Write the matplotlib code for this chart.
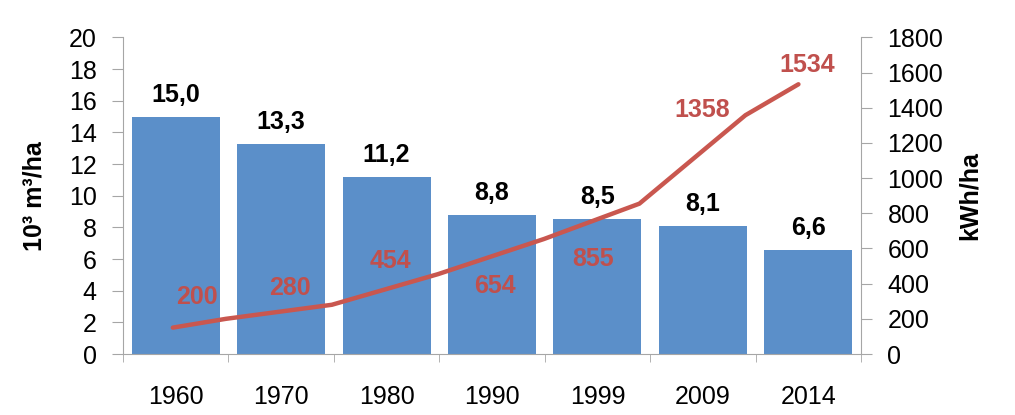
import matplotlib
matplotlib.use("Agg")
import matplotlib.pyplot as plt
from matplotlib.ticker import FixedLocator

plt.rcParams['font.family'] = ['Liberation Sans', 'DejaVu Sans']

# ---- data ----
categories = ['1960', '1970', '1980', '1990', '1999', '2009', '2014']
water = [15.0, 13.3, 11.2, 8.8, 8.5, 8.1, 6.6]
water_labels = ['15,0', '13,3', '11,2', '8,8', '8,5', '8,1', '6,6']

line_years = [1955, 1960, 1970, 1980, 1990, 1999, 2009, 2014]
energy = [150, 200, 280, 454, 654, 855, 1358, 1534]
energy_labels = ['', '200', '280', '454', '654', '855', '1358', '1534']

# label offsets (pixels) relative to each line point
label_offsets = [(0, 0), (-29, 22), (-42, 17), (-47, 13), (-49, -47),
                 (-46, -55), (-43, 5), (9, 19)]

BAR_C = '#5B8FC9'
RED = '#C0504D'
GRAY = '#A6A6A6'

fig = plt.figure(figsize=(10.15, 4.15), dpi=100)
ax = fig.add_axes([123 / 1015, 61 / 415, 738 / 1015, 316.5 / 415])

x = list(range(len(categories)))
ax.bar(x, water, width=0.835, color=BAR_C, zorder=2)
ax.set_xlim(-0.5, len(categories) - 0.5)
ax.set_ylim(0, 20)
ax.set_yticks(range(0, 21, 2))
ax.set_xticks(x)
ax.set_xticklabels(categories)
ax.xaxis.set_minor_locator(FixedLocator([i - 0.5 for i in range(len(categories) + 1)]))
ax.tick_params(axis='x', which='major', length=0, pad=22, labelsize=18)
ax.tick_params(axis='x', which='minor', length=6, color=GRAY, direction='out')
ax.tick_params(axis='y', length=8, color=GRAY, pad=11, labelsize=18, direction='out')
for s in ['top', 'right']:
    ax.spines[s].set_visible(False)
for s in ['left', 'bottom']:
    ax.spines[s].set_color(GRAY)
ax.set_ylabel('10³ m³/ha', fontsize=18, fontweight='bold')
ax.yaxis.set_label_coords((46 - 123) / 738, 0.5)

for xi, v, lab in zip(x, water, water_labels):
    ax.annotate(lab, (xi, v), xytext=(0, 10), textcoords='offset pixels',
                ha='center', va='bottom', fontsize=18, fontweight='bold',
                color='black')

ax2 = ax.twinx()
ax2.set_ylim(0, 1800)
ax2.set_yticks(range(0, 1801, 200))
ax2.tick_params(axis='y', length=8, color=GRAY, pad=11, labelsize=18, direction='out')
for s in ['top', 'left', 'bottom']:
    ax2.spines[s].set_visible(False)
ax2.spines['right'].set_color(GRAY)
ax2.set_ylabel('kWh/ha', fontsize=18, fontweight='bold')
ax2.yaxis.set_label_coords((958 - 123) / 738, 0.5)

ax3 = ax2.twiny()
ax3.set_xlim(1950.3, 2019.9)
ax3.set_axis_off()
ax3.plot(line_years, energy, color='#C9574F', linewidth=3.2,
         solid_capstyle='round', solid_joinstyle='round', zorder=3)
for yr, v, lab, off in zip(line_years, energy, energy_labels, label_offsets):
    if lab:
        ax3.annotate(lab, (yr, v), xytext=off, textcoords='offset pixels',
                     ha='center', va='center', fontsize=18, fontweight='bold',
                     color=RED)

fig.savefig('out.png', dpi=100)
